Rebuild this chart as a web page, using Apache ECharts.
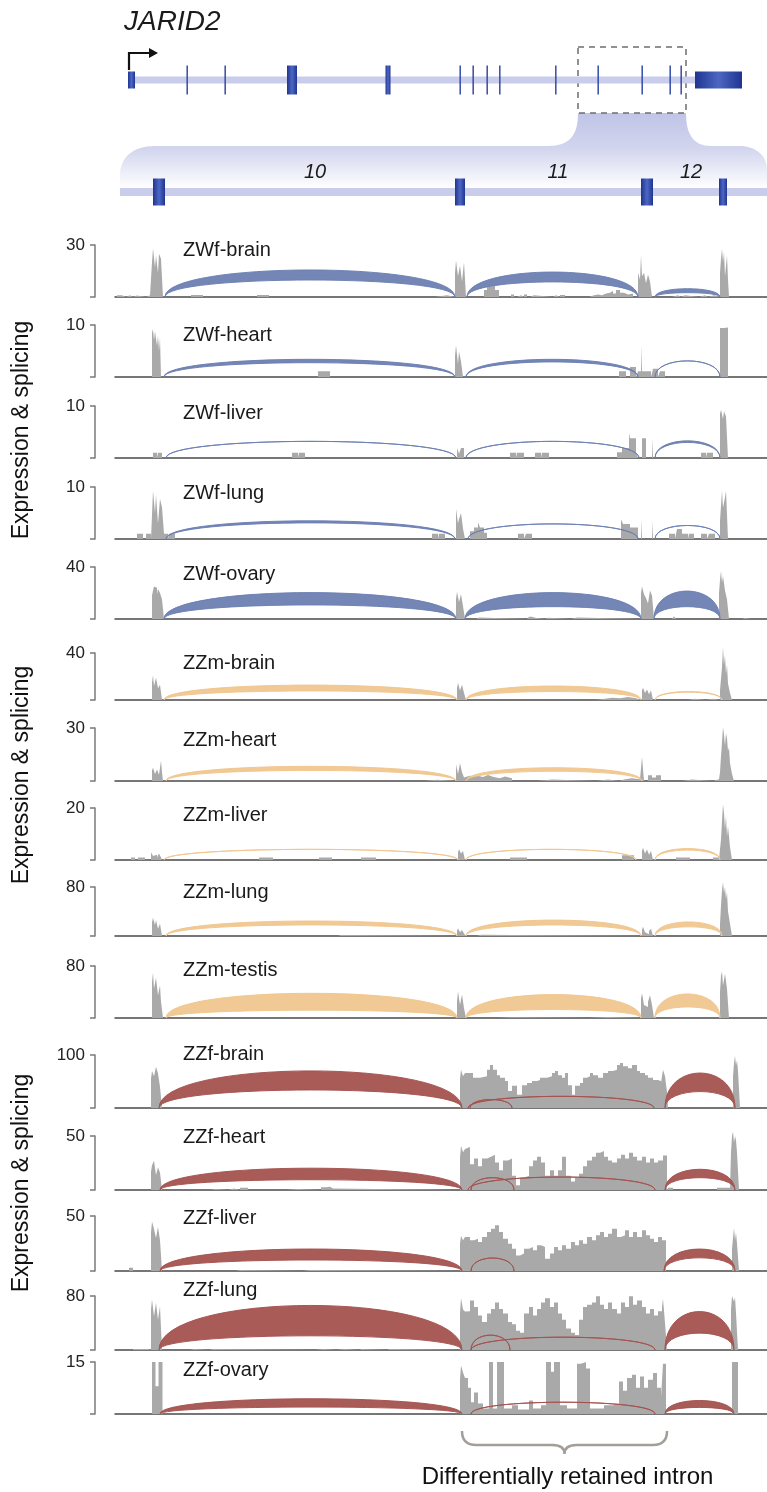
<!DOCTYPE html>
<html>
<head>
<meta charset="utf-8">
<title>JARID2 sashimi</title>
<script src="https://cdn.jsdelivr.net/npm/echarts@6.0.0/dist/echarts.min.js"></script>
<style>
  html, body { margin: 0; padding: 0; background: #fff; }
  #chart { width: 767px; height: 1492px; }
</style>
</head>
<body>
<div id="chart"></div>
<script>
const FONT = "'Liberation Sans', Arial, Helvetica, sans-serif";

// gene model (positions on the locus axis)
const geneSpan = [128, 742];
const geneExons = [[128,135],[186.5,188],[224.5,226],[287,297],[385.5,390.5],[459.5,460.5],[472.5,473.5],
  [486.5,487.5],[499,500],[555,556],[597.5,598.5],[641.5,642.5],[669.5,670.5],[680.5,681.5],[695,742]];
const utrExons = [0, 14];
const zoomedRegion = [578, 686];
const zoomSpan = [120, 767];
const zoomExons = [[153,165],[455,465],[641,653],[719,727]];
const intronNumbers = ['10', '11', '12'];
const retainedIntron = [462, 667];

const samples = ['ZWf-brain','ZWf-heart','ZWf-liver','ZWf-lung','ZWf-ovary',
  'ZZm-brain','ZZm-heart','ZZm-liver','ZZm-lung','ZZm-testis',
  'ZZf-brain','ZZf-heart','ZZf-liver','ZZf-lung','ZZf-ovary'];
const yMax = [30,10,10,10,40, 40,30,20,80,80, 100,50,50,80,15];
const groupOf = [0,0,0,0,0, 1,1,1,1,1, 2,2,2,2,2];
const groupColors = ['#6b7fb2', '#f0c68e', '#a4524f'];

// coverage: [position, depth] — depth holds until the next position
const covZWfBrain = [[117,1],[122,0],[126,1],[130,0],[133,0.8],[137,0],[146,1],[150,0],
  [152,20],[153,28],[155,17],[156,24],[158,14],[159,25],[161,22],[163,0],
  [191,1.2],[203,0],[257,1.2],[269,0],[435,1],[447,0],
  [455,14],[456,21],[458,12],[460,18],[462,9],[464,20],[466,0],
  [484,4],[487,6],[490,5],[492,6.5],[495,4],[499,0],
  [511,1.5],[514,0],[517,1],[521,0],[524,1.5],[527,0],[530,1],[534,0],[553,1],[556,0],[560,1.2],[565,0],
  [589,1],[594,1.5],[598,1],[602,2],[606,2.5],[610,3.5],[613,2],[616,4],[620,2.5],[624,1.5],[628,2],[633,0],
  [638,14],[640,10],[641,24],[642,12],[644,14],[646,8],[648,13],[650,9],[652,0],
  [672,1],[678,0],[681,1],[685,0],[699,1],[705,0],[708,1],[714,0],
  [720,14],[721,22],[722,28],[723,20],[724,26],[725,12],[727,24],[728,10],[729,0],[748,0.6],[752,0]];
const covZWfHeart = [[152,8.5],[153,9.2],[154,7],[155,8.8],[157,6],[158,8],[159,5],[160,7.5],[161,0],
  [318,1.1],[330,0],[455,4],[456,6.1],[458,2.5],[459,4.9],[461,3],[463,0],
  [619,1.1],[626,0],[630,1.9],[636,0],[638,1.1],[641,6.1],[642,1.1],[651,0],[653,1.6],[658,0],[660,1.1],[665,0],
  [720,9.4],[724,9.5],[728,0]];
const covZWfLiver = [[153,1],[157,0],[158,1],[162,0],[292,1],[298,0],[299,1],[305,0],
  [457,1.9],[459,0.8],[461,1.9],[464,0],[510,1],[516,0],[517,1],[524,0],[535,1],[541,0],[542,1],[549,0],
  [617,1.1],[622,1.9],[629,4.8],[630,3.8],[636,1.1],[638,0],[642,3.8],[646,0],[652,3.8],[653,0],
  [701,1],[706,0],[707,1],[713,0],[720,8.5],[721,9.3],[723,7.5],[724,9],[726,8],[728,0]];
const covZWfLung = [[137,1],[143,0],[146,1],[151,0],[153,9.3],[155,5],[156,8.5],[158,3],[160,7.7],[162,6.1],
  [164,1],[168,0],[169,1],[175,0],[432,1],[438,0],[439,1],[445,0],
  [456,5.8],[458,3],[459,3.8],[461,5],[463,2],[465,0],[470,1.5],[474,2.2],[478,3.2],[480,2.2],[484,1.2],[487,0],
  [518,1],[524,0],[526,1],[532,0],[621,3.8],[623,2.9],[630,2.2],[638,0],[641,3.8],[642,0],[652,3.5],[653,0],
  [669,1],[675,0],[677,1.9],[682,1],[688,0],[689,1],[694,0],[701,1],[707,0],[709,1],[715,0],
  [720,3.5],[722,9.3],[723,6],[725,8],[726,9.3],[728,0]];
const covZWfOvary = [[152,18],[153,22],[154,25],[156,24],[157,19],[158,23],[160,20],[162,15],[164,0],
  [456,15],[457,21],[459,13],[461,19],[463,10],[465,0],
  [476,1.2],[479,0],[527,1],[529,1.8],[532,1],[535,0],[545,1],[548,0],[571,1.2],[577,0],
  [641,20],[642,25],[644,19],[646,16],[648,12],[650,22],[652,18],[654,0],[672,1.5],[674,2.2],[676,0],
  [719,20],[720,30],[721,37],[722,28],[723,33],[725,22],[727,15],[729,0],[742,0.8],[745,0],[751,0.8],[755,0]];
const covZZmBrain = [[152,15],[153,21],[154,12],[156,19],[158,10],[160,13],[162,0],
  [457,10],[458,14.7],[460,8],[462,13],[464,6],[466,0],
  [596,1],[605,2],[612,1.5],[620,2.5],[628,1.5],[636,0],
  [642,8],[643,10.5],[645,6],[647,9],[649,5],[651,8],[653,0],[688,1],[694,0],[706,1],[713,0],
  [720,8],[721,18],[722,28],[723,45],[724,30],[725,38],[726,22],[727,30],[728,14],[730,6],[732,0]];
const covZZmHeart = [[152,6],[153,7.5],[155,4],[157,6.5],[159,3.5],[161,11.5],[162,5],[163,0],
  [424,0.7],[437,0],[456,9.5],[458,4],[460,10],[462,5],[464,2],[466,3],[470,2.5],[474,3],[478,2.3],[483,3.4],
  [488,2.5],[492,2],[496,1.5],[500,2.5],[505,1.5],[512,0],
  [537,0.8],[552,0],[596,0.8],[608,0],[619,1],[625,1.5],[632,1],[640,0],
  [642,13.6],[644,0],[648,3.2],[652,2],[656,3.2],[661,0],[682,0.8],[692,0],[713,1],[719,0],
  [720,5],[721,14],[722,22],[723,30.5],[724,26],[725,20],[726,27],[727,24],[728,17],[729,19],[730,10],[732,4],[734,0]];
const covZZmLiver = [[131,1],[135,0],[138,1],[145,0],
  [151,3],[153,1.5],[155,2],[157,1],[159,2.5],[161,1],[162,0],
  [259,1],[273,0],[319,1],[332,0],[361,1],[376,0],
  [458,3],[459,4.1],[461,2.5],[463,3.5],[465,0],[510,1],[527,0],[622,1.8],[634,0],
  [642,3.5],[643,4.7],[645,2.5],[647,4],[649,2],[651,3.5],[653,0],[676,1],[690,0],[713,1],[719,0],
  [720,4],[721,8],[722,15],[723,21.4],[724,18],[725,12],[726,17],[727,9],[728,13],[730,5],[732,0]];
const covZZmLung = [[152,22],[153,30],[155,18],[156,26],[158,12],[160,20],[162,0],
  [338,1.5],[341,0],[457,8],[458,12.5],[460,6],[462,10],[464,4],[466,0],[477,2],[481,0],
  [642,10],[643,15],[645,6],[647,3],[649,8],[651,12],[653,0],
  [720,20],[721,50],[722,75],[723,88],[724,70],[725,80],[726,60],[727,72],[728,40],[730,20],[732,0]];
const covZZmTestis = [[152,55],[153,70],[154,45],[156,62],[158,35],[160,50],[161,25],[163,0],
  [457,25],[458,41],[460,20],[462,36],[464,15],[466,0],[498,1],[512,0],[588,1.5],[608,0],
  [641,30],[642,38],[644,20],[646,17],[648,25],[650,35],[652,20],[654,0],
  [720,40],[721,65],[722,72],[723,50],[725,68],[727,45],[729,0]];
const covZZfBrain = [[151,55],[152,70],[154,60],[156,78],[158,65],[160,40],[162,0],
  [460,55],[461,72],[463,60],[465,66],
  [467,66],[473,57],[480,60],[487,72],[490,81],[493,72],[497,62],[500,57],[505,51],[508,32],[512,42],[517,25],
  [522,43],[527,47],[532,51],[537,53],[540,57],[547,60],[552,66],[555,70],[558,62],[562,57],[565,66],[568,43],
  [572,25],[575,42],[580,47],[583,57],[587,60],[590,66],[593,62],[598,57],[603,66],[608,70],[613,72],[617,81],
  [620,85],[623,79],[628,75],[632,81],[637,70],[640,66],[645,62],[648,57],[653,53],[658,51],[661,47],
  [663,72],[665,60],[667,30],[668,0],
  [733,60],[734,85],[735,98],[736,80],[737,90],[738,70],[740,0],[745,3],[756,0]];
const covZZfHeart = [[151,17],[152,23],[154,27],[156,14],[158,21],[160,16],[162,0],
  [210,1],[216,0],[228,1.5],[234,0],[240,2],[248,0],[286,1],[298,0],[321,2.5],[326,3],[330,1.5],[333,0],
  [460,30],[461,41],[463,35],[465,38],
  [466,39.8],[470,23.8],[474,29.1],[478,22],[482,29.1],[487,30.9],[491,32.7],[495,25.5],[499,18.4],[503,27.4],
  [508,29.1],[512,13.1],[516,4.3],[520,11.4],[524,13.1],[529,22],[533,27.4],[537,30.9],[541,25.5],[545,13.1],
  [550,18.4],[554,13.1],[558,18.4],[562,30.9],[566,13.1],[571,7.8],[575,11.4],[579,15],[583,22],[587,27.4],
  [592,30.9],[596,34.4],[600,36.2],[604,30.9],[608,27.4],[612,25.5],[617,29.1],[621,32.7],[625,29.1],[629,34.4],
  [633,30.9],[637,27.4],[642,30.9],[646,25.5],[650,29.1],[654,25.5],[658,27.4],[663,32],[667,0],
  [668,2],[673,0],[717,2],[730,0],
  [731,35],[732,50],[733,54],[734,44],[735,50],[736,46],[737,35],[739,0]];
const covZZfLiver = [[129,3],[133,0],
  [151,35],[152,45],[154,38],[156,30],[158,40],[160,28],[162,0],
  [236,1],[240,0],[303,1],[309,0],[310,1],[315,0],
  [460,25],[461,32],[463,28],[465,31],
  [466,30.9],[470,27.9],[474,29.4],[478,26.4],[482,30.9],[487,35.5],[491,38.5],[495,41.5],[499,35.5],[503,29.4],
  [508,24.8],[512,20.3],[516,14.2],[520,15.8],[524,20.3],[529,21.8],[533,18.8],[537,23.3],[541,21.8],[545,11.2],
  [550,15.8],[554,21.8],[558,18.8],[562,23.3],[566,20.3],[571,26.4],[575,23.3],[579,27.9],[583,24.8],[587,30.9],
  [592,27.9],[596,32.4],[600,35.5],[604,30.9],[608,33.9],[612,38.5],[617,30.9],[621,32.4],[625,37],[629,30.9],
  [633,35.5],[637,30.9],[642,37],[646,32.4],[650,29.4],[654,26.4],[658,30.9],[662,27.9],[666,0],
  [732,20],[733,30],[734,39],[735,28],[736,35],[737,25],[739,0]];
const covZZfLung = [[133,1.5],[140,0],[142,1.5],[148,0],
  [151,60],[152,75],[154,50],[156,70],[158,45],[160,65],[162,0],
  [190,1.5],[194,0],[209,1.5],[213,0],[315,1.5],[324,0],[336,1.5],[345,0],[359,1.5],[362,0],[387,1.5],[390,0],
  [460,55],[461,77],[463,60],[465,57],
  [466,57.4],[470,73.4],[474,63.8],[478,51],[482,41.5],[487,54.2],[491,60.6],[495,70.2],[499,60.6],[503,54.2],
  [508,41.5],[512,38.3],[516,28.7],[520,25.5],[524,54.2],[529,63.8],[533,51],[537,60.6],[541,70.2],[545,76.6],
  [550,63.8],[554,70.2],[558,54.2],[562,44.7],[566,31.9],[571,25.5],[575,22.3],[579,44.7],[583,63.8],[587,67],
  [592,70.2],[596,79.8],[600,67],[604,60.6],[608,70.2],[612,60.6],[617,54.2],[621,70.2],[625,63.8],[629,79.8],
  [633,67],[637,73.4],[642,63.8],[646,54.2],[650,60.6],[654,51],[658,57.4],[662,63.8],[663,76],[665,40],[667,0],
  [731,60],[732,80],[734,72],[735,78],[736,55],[738,0]];
const covZZfOvary = [[152,15],[155.5,8],[158.5,15],[162.5,0],
  [460,10],[461,14],[463,12],[465,10.4],
  [466,10.4],[468,7.6],[471,3.4],[474,6.2],[478,3],[483,1.6],[489,15],[493,1.6],[497,15],[504,1.6],[512,2.5],
  [518,1.3],[529,3.9],[533,1.6],[541,2.5],[546,15],[551,12.2],[554,15],[560,2.5],[567,1.6],[577,14.5],[581,15],
  [586,13.1],[590,1.6],[604,2.5],[613,3],[619,9.4],[623,6.7],[627,10.4],[632,11.3],[636,7.6],[640,10.8],[644,7.6],
  [648,9.9],[653,11.8],[657,7.6],[661,4.8],[663,14.5],[666,0],
  [732,15],[738,0]];

// junctions: [donor, acceptor, outer height, inner height] — band thickness tracks read count
const arcZWfBrain = [[165,455,15.6,9.8],[467,638,14.4,8.7],[655,720,4.8,2.5]];
const arcZWfHeart = [[164,455,3.4,2.75],[466,638,3.4,2.9],[655,720,3.1,3.1]];
const arcZWfLiver = [[166,456,3.2,3.2],[466,639,3.2,3.2],[655,720,3.3,3.0]];
const arcZWfLung = [[166,455,3.5,3.1],[468,638,2.9,2.9],[655,720,2.6,2.6]];
const arcZWfOvary = [[164,456,20.3,10.8],[465,641,20.3,9.5],[654,720,21.5,9.5]];
const arcZZmBrain = [[164,457,12.7,7.7],[466,641,11.9,7.2],[655,722,7.2,6.7]];
const arcZZmHeart = [[166,456,8.3,6.0],[466,642,7.5,5.5]];
const arcZZmLiver = [[164,458,4.1,4.1],[466,636,4.1,4.1],[655,720,4.4,3.8]];
const arcZZmLung = [[166,457,24.5,18],[466,641,26,18],[655,722,23,15]];
const arcZZmTestis = [[166,457,38,12],[466,641,36,13],[655,720,37,17]];
const arcZZfBrain = [[159,462,70,34],[468,654,22,22],[470,512,16,16],[665,735,66,31]];
const arcZZfHeart = [[160,462,20.2,9.5],[468,655,12,12],[471,514,11.4,11.4],[665,735,19.2,11.4]];
const arcZZfLiver = [[160,462,20,10],[471,514,11.8,11.8],[664,735,20,12]];
const arcZZfLung = [[159,462,66,21],[471,655,19,19],[471,510,22,22],[665,734,57,25]];
const arcZZfOvary = [[160,462,4.4,2.0],[471,655,3.4,3.4],[665,734,3.9,1.9]];

const coverage = [covZWfBrain, covZWfHeart, covZWfLiver, covZWfLung, covZWfOvary,
  covZZmBrain, covZZmHeart, covZZmLiver, covZZmLung, covZZmTestis,
  covZZfBrain, covZZfHeart, covZZfLiver, covZZfLung, covZZfOvary];
const junctions = [arcZWfBrain, arcZWfHeart, arcZWfLiver, arcZWfLung, arcZWfOvary,
  arcZZmBrain, arcZZmHeart, arcZZmLiver, arcZZmLung, arcZZmTestis,
  arcZZfBrain, arcZZfHeart, arcZZfLiver, arcZZfLung, arcZZfOvary];

// layout (pixels)
const panelTop = [245,325,406,487,567, 653,728,808,887,966, 1055,1136,1216,1296,1362];
const panelBottom = [297,377,458,539,619, 700,781,860,936,1018, 1108,1190,1271,1350,1414];
const labelY = [250,335,413,493,574, 663,740,815,892,970, 1054,1137,1218,1290,1370];
const groupTitleY = [430, 775, 1183];
const TRACK_Y = 80, ZOOM_Y = 192;

let myChart = echarts.init(document.getElementById('chart'), null, { renderer: 'canvas' });

function exonFill() {
  return new echarts.graphic.LinearGradient(0, 0, 1, 0, [
    { offset: 0, color: '#1f3590' }, { offset: 0.5, color: '#4d67c4' }, { offset: 1, color: '#1f3590' }
  ]);
}

// crescent between two cubic curves sharing the junction ends
function arcItem(color) {
  return function (params, api) {
    const a = api.coord([api.value(0), 0]);
    const b = api.coord([api.value(1), 0]);
    const top = api.coord([api.value(0), api.value(2)])[1];
    const low = api.coord([api.value(0), api.value(3)])[1];
    const yo = a[1] - (a[1] - top) * 4 / 3;
    const yi = a[1] - (a[1] - low) * 4 / 3;
    const d = 'M' + a[0] + ' ' + a[1] + ' C' + a[0] + ' ' + yo + ' ' + b[0] + ' ' + yo + ' ' + b[0] + ' ' + b[1] +
      ' C' + b[0] + ' ' + yi + ' ' + a[0] + ' ' + yi + ' ' + a[0] + ' ' + a[1] + ' Z';
    return { type: 'path', shape: { pathData: d }, style: { fill: color, stroke: color, lineWidth: 1, opacity: 0.95 } };
  };
}

const grids = [], xAxes = [], yAxes = [], series = [];

// gene model grid (y in pixels from top)
grids.push({ left: 115, right: 0, top: 0, height: 220 });
xAxes.push({ type: 'value', gridIndex: 0, min: 115, max: 767, show: false });
yAxes.push({ type: 'value', gridIndex: 0, min: 0, max: 220, inverse: true, show: false });

// zoom funnel and dashed box
series.push({
  type: 'custom', xAxisIndex: 0, yAxisIndex: 0, silent: true, data: [zoomedRegion],
  renderItem: (params, api) => {
    const L = api.coord([api.value(0), 113]), R = api.coord([api.value(1), 113]);
    const T = api.coord([api.value(0), 47])[1];
    const x0 = api.coord([zoomSpan[0], 0])[0], x1 = api.coord([zoomSpan[1], 0])[0];
    const y = L[1], yb = y + 33;
    const d = 'M' + L[0] + ' ' + y + ' C' + L[0] + ' ' + (y + 22) + ' ' + (L[0] - 8) + ' ' + yb + ' ' + (L[0] - 30) + ' ' + yb +
      ' L' + (x0 + 35) + ' ' + yb + ' C' + (x0 + 12) + ' ' + yb + ' ' + x0 + ' ' + (yb + 12) + ' ' + x0 + ' ' + (yb + 30) +
      ' L' + x0 + ' ' + (yb + 56) + ' L' + x1 + ' ' + (yb + 56) + ' L' + x1 + ' ' + (yb + 24) +
      ' C' + x1 + ' ' + (yb + 9) + ' ' + (x1 - 12) + ' ' + yb + ' ' + (x1 - 27) + ' ' + yb +
      ' L' + (R[0] + 25) + ' ' + yb + ' C' + (R[0] + 8) + ' ' + yb + ' ' + R[0] + ' ' + (y + 22) + ' ' + R[0] + ' ' + y + ' Z';
    return {
      type: 'group', children: [
        { type: 'path', shape: { pathData: d }, style: { fill: new echarts.graphic.LinearGradient(0, 0, 0, 1, [
          { offset: 0, color: '#c0c4e7' }, { offset: 0.4, color: '#d2d5ee' }, { offset: 0.85, color: '#ffffff' }, { offset: 1, color: '#ffffff' }]) } },
        { type: 'rect', shape: { x: L[0], y: T, width: R[0] - L[0], height: y - T },
          style: { fill: 'none', stroke: '#6e6e6e', lineWidth: 1.5, lineDash: [6, 5] } }
      ]
    };
  }
});
// gene backbone
series.push({
  type: 'custom', xAxisIndex: 0, yAxisIndex: 0, silent: true, data: [geneSpan],
  renderItem: (params, api) => {
    const a = api.coord([api.value(0), TRACK_Y]), b = api.coord([api.value(1), TRACK_Y]);
    return { type: 'rect', shape: { x: a[0], y: a[1] - 3.5, width: b[0] - a[0], height: 7 }, style: { fill: '#c9cceb' } };
  }
});
// gene exons
series.push({
  type: 'custom', xAxisIndex: 0, yAxisIndex: 0, silent: true, data: geneExons,
  renderItem: (params, api) => {
    const a = api.coord([api.value(0), TRACK_Y]), b = api.coord([api.value(1), TRACK_Y]);
    const h = utrExons.includes(params.dataIndex) ? 17 : 29;
    const w = Math.max(b[0] - a[0], 1.5);
    return { type: 'rect', shape: { x: a[0], y: a[1] - h / 2, width: w, height: h }, style: { fill: exonFill() } };
  }
});
// zoomed backbone
series.push({
  type: 'custom', xAxisIndex: 0, yAxisIndex: 0, silent: true, data: [zoomSpan],
  renderItem: (params, api) => {
    const a = api.coord([api.value(0), ZOOM_Y]), b = api.coord([api.value(1), ZOOM_Y]);
    return { type: 'rect', shape: { x: a[0], y: a[1] - 4, width: b[0] - a[0], height: 8 }, style: { fill: '#c9cceb' } };
  }
});
// zoomed exons + intron numbers
series.push({
  type: 'custom', xAxisIndex: 0, yAxisIndex: 0, silent: true, data: zoomExons,
  renderItem: (params, api) => {
    const a = api.coord([api.value(0), ZOOM_Y]), b = api.coord([api.value(1), ZOOM_Y]);
    const kids = [{ type: 'rect', shape: { x: a[0], y: a[1] - 13.5, width: b[0] - a[0], height: 27 }, style: { fill: exonFill() } }];
    const i = params.dataIndex;
    if (i < intronNumbers.length) {
      const c = api.coord([(zoomExons[i][1] + zoomExons[i + 1][0]) / 2, ZOOM_Y]);
      kids.push({ type: 'text', x: c[0] + 5, y: c[1] - 20, style: { text: intronNumbers[i], font: 'italic 20px ' + FONT, fill: '#1a1a1a',
        align: 'center', verticalAlign: 'middle', textAlign: 'center', textVerticalAlign: 'middle' } });
    }
    return { type: 'group', children: kids };
  }
});

samples.forEach((name, i) => {
  const g = i + 1;
  const M = yMax[i];
  grids.push({ left: 115, right: 0, top: panelTop[i], height: panelBottom[i] - panelTop[i] });
  xAxes.push({
    type: 'value', gridIndex: g, min: 115, max: 767,
    axisLine: { show: true, onZero: false, lineStyle: { color: '#4a4a4a', width: 1.5 } },
    axisTick: { show: false }, axisLabel: { show: false }, splitLine: { show: false }
  });
  yAxes.push({
    type: 'value', gridIndex: g, min: 0, max: M, interval: M, offset: 20,
    axisLine: { show: true, lineStyle: { color: '#7a7a7a', width: 1.5 } },
    axisTick: { show: true, length: 5, lineStyle: { color: '#7a7a7a', width: 1.5 } },
    axisLabel: { fontSize: 17, color: '#222', fontFamily: FONT, margin: 10, formatter: v => (v === M ? String(v) : '') },
    splitLine: { show: false }
  });
  series.push({
    type: 'line', xAxisIndex: g, yAxisIndex: g, data: coverage[i], step: 'end',
    symbol: 'none', showSymbol: false, lineStyle: { width: 0 },
    areaStyle: { color: '#a9a9a9', opacity: 1 }, clip: false, silent: true, z: 2
  });
  series.push({
    type: 'custom', xAxisIndex: g, yAxisIndex: g, data: junctions[i], encode: { x: [0, 1], y: [2, 3] },
    silent: true, z: 3, renderItem: arcItem(groupColors[groupOf[i]])
  });
});

// brace under the retained intron
series.push({
  type: 'custom', xAxisIndex: 15, yAxisIndex: 15, silent: true, data: [retainedIntron],
  renderItem: (params, api) => {
    const a = api.coord([api.value(0), 0]), b = api.coord([api.value(1), 0]);
    const m = (a[0] + b[0]) / 2, y0 = a[1] + 17, y1 = y0 + 14, y2 = y1 + 9;
    const d = 'M' + a[0] + ' ' + y0 + ' Q' + a[0] + ' ' + y1 + ' ' + (a[0] + 14) + ' ' + y1 + ' L' + (m - 12) + ' ' + y1 +
      ' Q' + m + ' ' + y1 + ' ' + m + ' ' + y2 + ' Q' + m + ' ' + y1 + ' ' + (m + 12) + ' ' + y1 +
      ' L' + (b[0] - 14) + ' ' + y1 + ' Q' + b[0] + ' ' + y1 + ' ' + b[0] + ' ' + y0;
    return {
      type: 'group', children: [
        { type: 'path', shape: { pathData: d }, style: { fill: 'none', stroke: '#a39e98', lineWidth: 2.5 } },
        { type: 'text', x: m + 3, y: a[1] + 63, style: { text: 'Differentially retained intron', font: '24px ' + FONT, fill: '#111',
          align: 'center', verticalAlign: 'middle', textAlign: 'center', textVerticalAlign: 'middle' } }
      ]
    };
  }
});

const graphics = [
  { type: 'text', x: 124, y: 22, style: { text: 'JARID2', font: 'italic 28px ' + FONT, fill: '#1a1a1a',
    verticalAlign: 'middle', textVerticalAlign: 'middle' } },
  { type: 'polyline', shape: { points: [[129, 70], [129, 53], [150, 53]] }, style: { stroke: '#111', lineWidth: 2.2, fill: 'none' } },
  { type: 'polygon', shape: { points: [[149, 48], [158, 53], [149, 58]] }, style: { fill: '#111' } }
];
groupTitleY.forEach(y => graphics.push({
  type: 'text', x: 22, y: y, rotation: Math.PI / 2,
  style: { text: 'Expression & splicing', font: '23px ' + FONT, fill: '#111',
    align: 'center', verticalAlign: 'middle', textAlign: 'center', textVerticalAlign: 'middle' }
}));
samples.forEach((name, i) => graphics.push({
  type: 'text', x: 183, y: labelY[i],
  style: { text: name, font: '20px ' + FONT, fill: '#1a1a1a', verticalAlign: 'middle', textVerticalAlign: 'middle' }
}));

myChart.setOption({
  animation: false,
  backgroundColor: '#fff',
  grid: grids,
  xAxis: xAxes,
  yAxis: yAxes,
  series: series,
  graphic: graphics
});
window.onresize = function () { myChart.resize(); };
</script>
</body>
</html>
